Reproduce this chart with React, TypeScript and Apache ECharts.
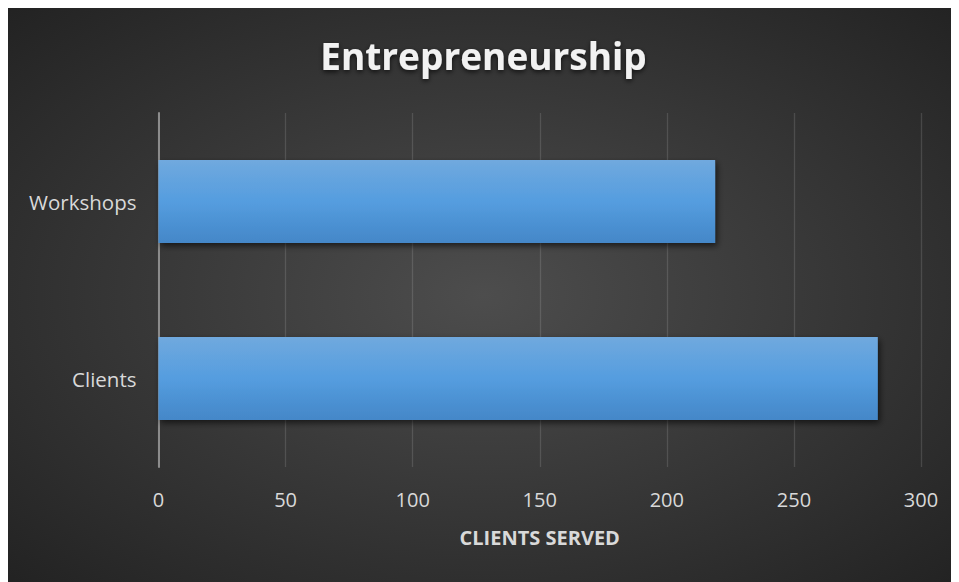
import React, { useEffect, useRef } from "react";
import * as echarts from "echarts";

const categories = ["Clients", "Workshops"];
const clientsServed = [283, 219];
const xTicks = { min: 0, max: 300, interval: 50 };
const titleText = "Entrepreneurship";
const axisTitle = "CLIENTS SERVED";

export default function App() {
  const ref = useRef<HTMLDivElement>(null);
  useEffect(() => {
    if (!ref.current) return;
    const chart = echarts.init(ref.current, undefined, { renderer: "svg" });
    chart.setOption({
      animation: false,
      backgroundColor: {
        type: "radial",
        x: 0.5,
        y: 0.5,
        r: 0.75,
        colorStops: [
          { offset: 0, color: "#4d4d4d" },
          { offset: 1, color: "#202020" },
        ],
      },
      title: {
        text: titleText,
        left: "center",
        top: 24,
        textStyle: {
          color: "#f2f2f2",
          fontFamily: "Open Sans",
          fontWeight: "bold",
          fontSize: 37,
          textShadowColor: "rgba(0,0,0,0.7)",
          textShadowBlur: 5,
          textShadowOffsetY: 2,
        },
      },
      grid: { left: 150.5, right: 38, top: 105, bottom: 115, containLabel: false },
      xAxis: {
        type: "value",
        min: xTicks.min,
        max: xTicks.max,
        interval: xTicks.interval,
        name: axisTitle,
        nameLocation: "middle",
        nameGap: 60,
        nameTextStyle: {
          color: "#d9d9d9",
          fontFamily: "Open Sans",
          fontWeight: "bold",
          fontSize: 20,
        },
        axisLine: { show: false },
        axisTick: { show: false },
        axisLabel: {
          color: "#d9d9d9",
          fontFamily: "Open Sans",
          fontSize: 20,
          margin: 22,
        },
        splitLine: { show: true, lineStyle: { color: "rgba(255,255,255,0.13)", width: 1.3 } },
      },
      yAxis: {
        type: "category",
        data: categories,
        axisLine: { show: true, lineStyle: { color: "#8c8c8c", width: 2 } },
        axisTick: { show: false },
        axisLabel: {
          color: "#d9d9d9",
          fontFamily: "Open Sans",
          fontSize: 20.5,
          margin: 22,
        },
      },
      series: [
        {
          type: "bar",
          data: clientsServed,
          barWidth: "47%",
          itemStyle: {
            color: {
              type: "linear",
              x: 0,
              y: 0,
              x2: 0,
              y2: 1,
              colorStops: [
                { offset: 0, color: "#70a9de" },
                { offset: 0.5, color: "#559ddf" },
                { offset: 1, color: "#4487c8" },
              ],
            },
            shadowColor: "rgba(0,0,0,0.6)",
            shadowBlur: 6,
            shadowOffsetX: 2,
            shadowOffsetY: 3,
          },
        },
      ],
    });
    return () => chart.dispose();
  }, []);
  return <div ref={ref} style={{ width: 951, height: 574 }} />;
}
